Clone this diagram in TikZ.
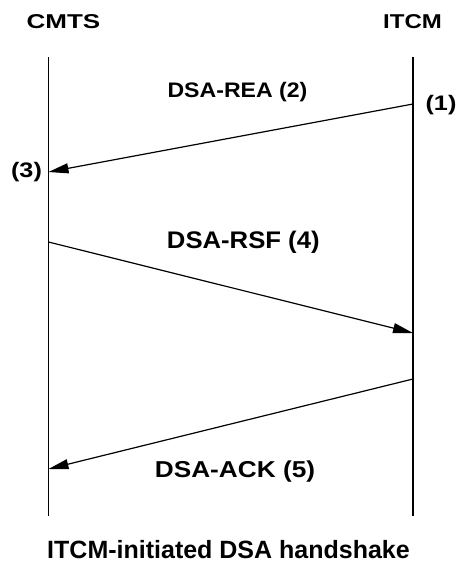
\documentclass[tikz,border=0pt]{standalone}
\usepackage{fontspec}
\setmainfont{Liberation Sans}
\usepackage{tikz}
\usetikzlibrary{arrows.meta, positioning, calc}
\definecolor{msgblack}{RGB}{0, 0, 0}
\tikzset{
    lbl/.style 2 args={inner sep=0pt, anchor=base, text=msgblack,
        font=\bfseries\fontsize{#1}{#1}\selectfont\addfontfeatures{FakeStretch=#2}},
    life/.style={draw=msgblack, line width=1.5pt},
    msg/.style={draw=msgblack, line width=1.2pt, -{Triangle[length=20pt, width=10pt]}}
}

\begin{document}
\begin{tikzpicture}[x=1pt, y=-1pt]
    \useasboundingbox (0,0) rectangle (461,573);
    \node[lbl={20}{1.3}] (cmts) at (63.5,28) {CMTS};
    \node[lbl={20}{1.2}] (itcm) at (412.5,28) {ITCM};
    \coordinate (cmtsTop) at (48.5,57);
    \coordinate (cmtsBot) at (48.5,516);
    \coordinate (itcmTop) at (413,57);
    \coordinate (itcmBot) at (413,516);
    \draw[life] (cmtsTop) -- (cmtsBot);
    \draw[life] (itcmTop) -- (itcmBot);
    \coordinate (reaStart) at (413,104);
    \coordinate (reaEnd) at (48.5,172);
    \coordinate (rsfStart) at (48.5,242);
    \coordinate (rsfEnd) at (413,333);
    \coordinate (ackStart) at (413,379);
    \coordinate (ackEnd) at (48.5,469);
    \draw[msg] (reaStart) -- (reaEnd);
    \draw[msg] (rsfStart) -- (rsfEnd);
    \draw[msg] (ackStart) -- (ackEnd);
    \node[lbl={21}{1.2}] (one) at (441,110.6) {(1)};
    \node[lbl={21}{1.2}] (three) at (26.5,177.6) {(3)};
    \node[lbl={21}{1.1}] (rea) at (237.5,97.7) {DSA-REA (2)};
    \node[lbl={24}{1.07}] (rsf) at (243.3,248) {DSA-RSF (4)};
    \node[lbl={23}{1.14}] (ack) at (235,477) {DSA-ACK (5)};
    \node[lbl={25}{1.0}] (caption) at (228.5,558) {ITCM-initiated DSA handshake};
\end{tikzpicture}
\end{document}
